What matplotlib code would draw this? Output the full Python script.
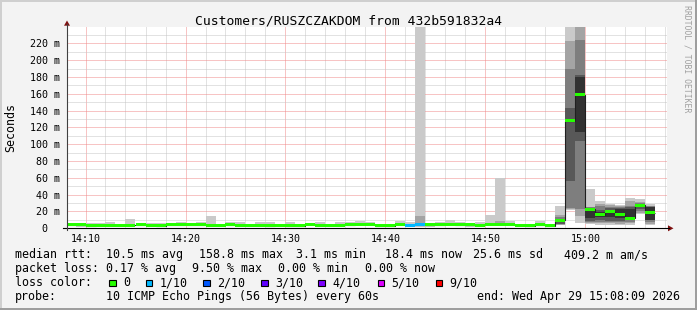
import matplotlib
matplotlib.use("Agg")
import matplotlib.pyplot as plt
from matplotlib.patches import Rectangle, Polygon
from matplotlib.lines import Line2D

W, H = 697, 310
MONO = "DejaVu Sans Mono"

# one bar per 60 s step, left edge in minutes after 14:00
minutes = list(range(8, 67))
median = [4.2, 4.2, 3.1, 3.9, 3.9, 3.9, 3.9, 4.2, 3.9, 3.1,
          4.2, 4.2, 4.2, 4.3, 3.9, 3.9, 4.3, 3.9, 3.5, 3.5,
          3.1, 3.5, 3.3, 3.1, 4.7, 3.9, 3.9, 3.9, 4.3, 4.9,
          4.7, 3.3, 3.3, 5.0, 3.7, 4.5, 4.2, 4.2, 5.0, 4.2,
          4.2, 3.5, 5.0, 4.7, 4.8, 3.9, 3.3, 4.5, 3.3, 9.6,
          127.9, 158.8, 22.6, 16.1, 19.5, 15.9, 11.9, 27.4, 18.4]
ping_lo = [3.0, 1.5, 2.5, 2.5, 2.5, 1.5, 2.5, 3.0, 2.5, 2.5,
           3.0, 3.0, 3.0, 3.0, 2.5, 3.0, 2.5, 3.0, 2.5, 2.5,
           2.5, 2.5, 2.5, 2.5, 3.5, 2.5, 3.0, 3.0, 3.0, 3.5,
           3.5, 2.5, 2.5, 3.5, 2.5, 2.0, 1.5, 3.0, 3.5, 2.5,
           1.5, 2.5, 3.0, 3.0, 3.0, 2.5, 2.5, 3.0, 2.5, 3.5,
           21.8, 6.7, 5.1, 3.5, 4.3, 3.5, 3.5, 17.0, 3.5]
ping_hi = [5.0, 5.0, 6.7, 6.7, 7.9, 5.0, 11.0, 5.0, 6.7, 6.7,
           5.0, 7.9, 5.0, 7.9, 14.6, 5.0, 7.5, 7.5, 5.0, 7.5,
           7.5, 5.0, 7.5, 4.5, 6.7, 7.5, 5.0, 7.5, 7.5, 8.7,
           7.1, 4.5, 4.5, 8.7, 7.5, 290, 5.0, 7.5, 9.9, 7.1,
           6.7, 7.5, 15.8, 59.5, 8.7, 5.0, 4.5, 9.0, 4.5, 26.5,
           290, 290, 46.7, 32.5, 29.0, 27.7, 36.0, 34.8, 29.0]
lost = [0] * 34 + [1, 1] + [0] * 23

# sorted pings for the bars where the smoke has several shades
pings = {
    43: [2.0, 3.0, 3.5, 4.0, 4.5, 5.0, 5.5, 6.0, 14.6, 290],
    51: [3.0, 4.0, 4.2, 4.5, 4.6, 4.8, 5.0, 6.0, 8.7, 59.5],
    57: [3.5, 4.5, 5.0, 5.5, 8.5, 10.0, 11.0, 13.0, 15.8, 26.5],
    58: [21.8, 23.0, 24.5, 56.0, 126.0, 129.0, 143.0, 189.0, 222.7, 290],
    59: [6.7, 14.6, 23.0, 104.0, 114.0, 180.0, 182.0, 224.0, 250.0, 290],
    60: [5.1, 6.7, 8.0, 9.0, 12.0, 21.4, 24.0, 25.0, 25.7, 46.7],
    61: [3.5, 5.9, 8.0, 9.9, 13.0, 19.0, 22.0, 26.5, 29.0, 32.5],
    62: [4.3, 6.0, 7.5, 9.2, 14.0, 21.0, 24.0, 25.5, 27.8, 29.0],
    63: [3.5, 5.0, 7.0, 9.0, 12.0, 22.6, 23.8, 25.0, 26.5, 27.7],
    64: [3.5, 5.9, 7.9, 9.5, 13.0, 22.6, 25.0, 27.0, 32.5, 36.0],
    65: [17.0, 17.8, 20.0, 22.6, 25.7, 28.0, 29.0, 30.0, 31.3, 34.8],
    66: [3.5, 5.1, 7.9, 9.9, 9.9, 25.0, 25.5, 26.0, 26.9, 29.0],
}

tick_minutes = [10, 20, 30, 40, 50, 60]
tick_labels = ["14:10", "14:20", "14:30", "14:40", "14:50", "15:00"]
y_ticks = [0, 20, 40, 60, 80, 100, 120, 140, 160, 180, 200, 220]
y_labels = ["0  "] + ["%d m" % v for v in y_ticks[1:]]

title = "Customers/RUSZCZAKDOM from 432b591832a4"
loss_colors = {0: "#26ff00", 1: "#00b8ff", 2: "#0059ff", 3: "#5e00ff",
               4: "#7e00ff", 5: "#dd00ff", 9: "#ff0000"}
loss_names = ["0", "1/10", "2/10", "3/10", "4/10", "5/10", "9/10"]
smoke_grays = ["#cacaca", "#a4a4a4", "#7e7e7e", "#585858", "#323232"]

rtt_row = [("median rtt:", 16), ("10.5 ms avg", 107), ("158.8 ms max", 200),
           ("3.1 ms min", 296.5), ("18.4 ms now", 386), ("25.6 ms sd", 473.5),
           ("409.2 m am/s", 565)]
loss_row = [("packet loss:", 16), ("0.17 % avg", 107), ("9.50 % max", 193),
            ("0.00 % min", 279), ("0.00 % now", 366)]
probe_row = [("probe:", 16), ("10 ICMP Echo Pings (56 Bytes) every 60s", 107),
             ("end: Wed Apr 29 15:08:09 2026", 478)]


def fx(x):
    return x / W


def fy(y):
    return 1 - y / H


fig = plt.figure(figsize=(W / 100, H / 100), dpi=100, facecolor="#f3f3f3")

# plot canvas: 600 px for one hour, 201 px for 0..239 ms
ax = fig.add_axes([fx(67), fy(228.3), 600 / W, 201 / H])
ax.set_xlim(8.15, 68.15)
ax.set_ylim(0, 239)
ax.set_facecolor("white")
for s in ax.spines.values():
    s.set_visible(False)

# smoke: band i spans ping i .. ping 11-i, darker towards the middle
for t, lo, hi in zip(minutes, ping_lo, ping_hi):
    if t in pings:
        p = pings[t]
        bands = [(p[i], p[9 - i]) for i in range(5)]
    else:
        bands = [(lo, hi)]
    for i, (b, top) in enumerate(bands):
        ax.bar(t, top - b, bottom=b, width=1, align="edge",
               color=smoke_grays[i], lw=0, zorder=1 + i * 0.1)

# median step line and loss-coloured median marks (3 px high)
ax.stairs(median, minutes + [minutes[-1] + 1], baseline=None,
          color="#202020", lw=0.8, zorder=3)
h = 3 * 239 / 201
ax.bar(minutes, [h] * len(minutes), bottom=[m - h / 2 for m in median],
       width=1, align="edge", color=[loss_colors[l] for l in lost],
       lw=0, zorder=4)

# grid
ax.set_xticks(tick_minutes, tick_labels)
ax.set_xticks(list(range(10, 69, 2)), minor=True)
ax.set_yticks(y_ticks, y_labels)
ax.set_yticks(list(range(10, 239, 10)), minor=True)
ax.set_axisbelow(True)
ax.grid(which="major", color="#f08a8a", ls=(0, (1, 1)), lw=0.72)
ax.grid(which="minor", color="#c6c6c6", ls=(0, (1, 1)), lw=0.72)
ax.tick_params(which="both", length=0)
ax.tick_params(axis="x", pad=4.2, labelsize=7.2)
ax.tick_params(axis="y", pad=4.7, labelsize=7.2)
for lab in ax.get_xticklabels() + ax.get_yticklabels():
    lab.set_fontfamily(MONO)

# axis lines with arrows
fig.add_artist(Line2D([fx(63), fx(669)], [fy(228.3), fy(228.3)],
                      color="black", lw=0.8))
fig.add_artist(Line2D([fx(67), fx(67)], [fy(230), fy(24)],
                      color="#404040", lw=0.8))
fig.add_artist(Polygon([(fx(64), fy(25.7)), (fx(70), fy(25.7)), (fx(67), fy(20.5))],
                       closed=True, color="#7f1010", lw=0))
fig.add_artist(Polygon([(fx(668), fy(225.3)), (fx(668), fy(231.3)), (fx(673.5), fy(228.3))],
                       closed=True, color="#7f1010", lw=0))

# texts
fig.text(fx(348.5), fy(24), title, ha="center", va="baseline",
         family=MONO, size=9.4)
fig.text(fx(10.5), fy(127.5), "Seconds", rotation=90, ha="center",
         va="center", family=MONO, size=8.4)
fig.text(fx(687), fy(5), "RRDTOOL / TOBI OETIKER", rotation=270, ha="center",
         va="top", family=MONO, size=5.9, color="#a0a0a0")

for row, base in [(rtt_row, 258.3), (loss_row, 272.3), (probe_row, 300.2)]:
    for s, x in row:
        fig.text(fx(x - 0.8), fy(base), s, ha="left", va="baseline",
                 family=MONO, size=8.4)

fig.text(fx(15.2), fy(286.2), "loss color:", ha="left", va="baseline",
         family=MONO, size=8.4)
box_x = [109, 145.7, 203.3, 261, 318.3, 377.7, 435.7]
for (lvl, col), name, bx in zip(loss_colors.items(), loss_names, box_x):
    fig.add_artist(Rectangle((fx(bx), fy(286)), 6.5 / W, 6.5 / H,
                             facecolor=col, edgecolor="black", lw=0.8))
    fig.text(fx(bx + 13.8), fy(286.2), name, ha="left", va="baseline",
             family=MONO, size=8.4)

# 3d frame
fig.add_artist(Rectangle((0, fy(2)), 1, 2 / H, color="#cfcfcf", lw=0))
fig.add_artist(Rectangle((0, 0), 2 / W, 1, color="#cfcfcf", lw=0))
fig.add_artist(Rectangle((0, 0), 1, 2 / H, color="#9e9e9e", lw=0))
fig.add_artist(Rectangle((fx(695), 0), 2 / W, 1, color="#9e9e9e", lw=0))

fig.savefig("out.png", dpi=100, facecolor=fig.get_facecolor())
